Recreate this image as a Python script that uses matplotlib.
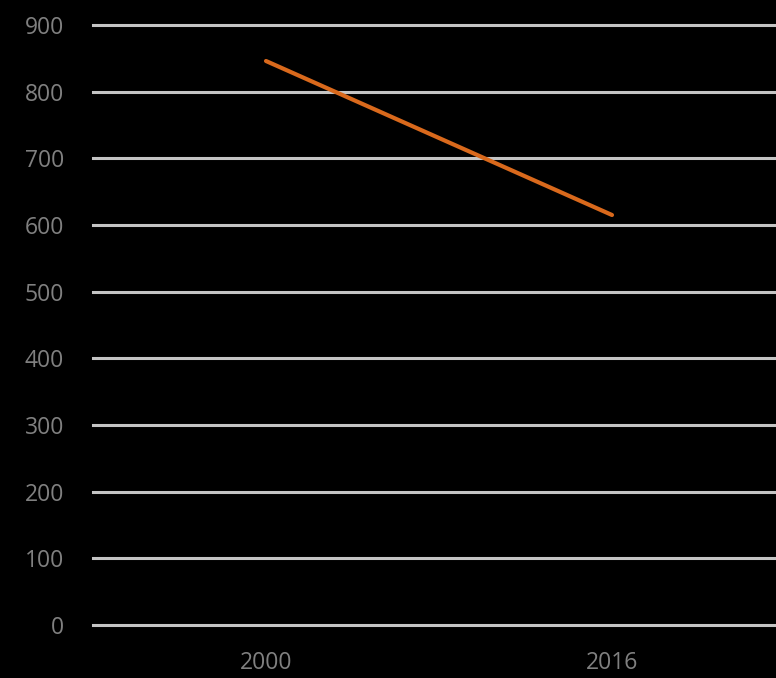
import matplotlib
matplotlib.use("Agg")
import matplotlib.pyplot as plt

years = ["2000", "2016"]
values = [846, 615]
yticks = [0, 100, 200, 300, 400, 500, 600, 700, 800, 900]

plt.rcParams['font.family'] = ['Open Sans', 'DejaVu Sans']

fig = plt.figure(figsize=(7.76, 6.78), dpi=100, facecolor="black")
ax = fig.add_axes([93 / 776, 53 / 678, 692 / 776, 600 / 678])
ax.set_facecolor("black")

x = list(range(len(years)))
ax.plot(x, values, color="#d9691c", linewidth=3, solid_capstyle="round", zorder=3)

ax.set_xlim(-0.5, len(years) - 0.5)
ax.set_ylim(0, 900)
ax.set_yticks(yticks)
ax.set_xticks(x)
ax.set_xticklabels(years)

# horizontal grid lines, drawn unclipped so the ones at 0 and 900 keep full width
for v in yticks:
    ax.axhline(v, color="#c4c4c4", linewidth=2.2, clip_on=False, zorder=1)
for s in ax.spines.values():
    s.set_visible(False)

ax.tick_params(axis="both", length=0, colors="#808080", labelsize=16.5)
ax.tick_params(axis="y", pad=21)
ax.tick_params(axis="x", pad=19)
for lbl in ax.get_yticklabels():
    lbl.set_horizontalalignment("right")

fig.savefig("out.png", dpi=100, facecolor="black")
